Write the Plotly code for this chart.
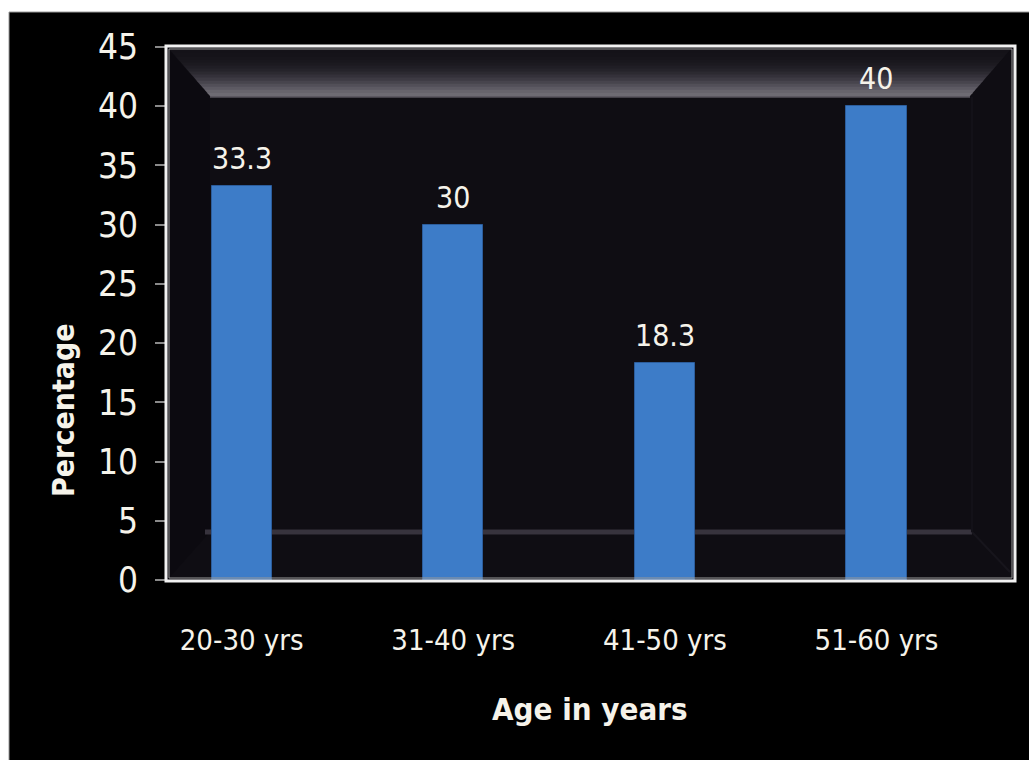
import plotly.graph_objects as go

categories = ["20-30 yrs", "31-40 yrs", "41-50 yrs", "51-60 yrs"]
percentages = [33.3, 30, 18.3, 40]
y_ticks = [0, 5, 10, 15, 20, 25, 30, 35, 40, 45]

FONT = "DejaVu Sans Condensed, Liberation Sans Narrow, sans-serif"
TXT = "#f6f3ea"

W, H = 1029, 760
L, R, T, B = 167, 15, 47, 180
PW, PH = W - L - R, H - T - B


def px(x):
    return (x - L) / PW


def py(y):
    return (H - B - y) / PH


fig = go.Figure()
fig.add_trace(go.Bar(
    x=list(range(len(categories))),
    y=percentages,
    width=0.285,
    marker=dict(color="#3d7cc8", line=dict(color="#2c5d9c", width=1)),
    cliponaxis=False,
))

shapes = []
# outer white strips (page margin)
shapes.append(dict(type="rect", xref="paper", yref="paper", x0=px(0), x1=px(W), y0=py(0), y1=py(12),
                   fillcolor="white", line=dict(width=0), layer="below"))
shapes.append(dict(type="rect", xref="paper", yref="paper", x0=px(0), x1=px(9), y0=py(H), y1=py(0),
                   fillcolor="white", line=dict(width=0), layer="below"))
shapes.append(dict(type="line", xref="paper", yref="paper", x0=px(9), x1=px(W), y0=py(12), y1=py(12),
                   line=dict(color="#9a9a9a", width=1), layer="below"))
shapes.append(dict(type="line", xref="paper", yref="paper", x0=px(9), x1=px(9), y0=py(12), y1=py(H),
                   line=dict(color="#9a9a9a", width=1), layer="below"))

# top bevel band of the back wall (stepped gradient, dark at top, light at bottom)
band_cols = ["#141218", "#151319", "#17151b", "#19171d", "#1c1a20", "#201e25", "#25232a",
             "#2c2a31", "#34313a", "#3d3a43", "#47444d", "#524f58", "#5d5a63", "#67646c", "#6e6b73"]
top, bot = 50, 96
n = len(band_cols)
for i, c in enumerate(band_cols):
    y0 = top + (bot - top) * i / n
    y1 = top + (bot - top) * (i + 1) / n + 0.5
    xl0, xl1 = 170 + (y0 - top) * 40 / (bot - top), 170 + (y1 - top) * 40 / (bot - top)
    xr0, xr1 = 1010 - (y0 - top) * 40 / (bot - top), 1010 - (y1 - top) * 40 / (bot - top)
    path = (f"M {px(xl0)} {py(y0)} L {px(xr0)} {py(y0)} L {px(xr1)} {py(y1)} "
            f"L {px(xl1)} {py(y1)} Z")
    shapes.append(dict(type="path", xref="paper", yref="paper", path=path,
                       fillcolor=c, line=dict(width=0), layer="below"))
shapes.append(dict(type="line", xref="paper", yref="paper", x0=px(210), x1=px(970), y0=py(97), y1=py(97),
                   line=dict(color="#7a7680", width=1), layer="below"))
# left wall slightly darker
shapes.append(dict(type="path", xref="paper", yref="paper",
                   path=f"M {px(169)} {py(50)} L {px(210)} {py(97)} L {px(210)} {py(532)} L {px(169)} {py(578)} Z",
                   fillcolor="#0c0a10", line=dict(width=0), layer="below"))
# floor line
shapes.append(dict(type="line", xref="paper", yref="paper", x0=px(205), x1=px(972), y0=py(532), y1=py(532),
                   line=dict(color="#37333d", width=5), layer="below"))
shapes.append(dict(type="line", xref="paper", yref="paper", x0=px(972), x1=px(1010), y0=py(532), y1=py(572),
                   line=dict(color="#17151c", width=2), layer="below"))
shapes.append(dict(type="line", xref="paper", yref="paper", x0=px(972), x1=px(972), y0=py(97), y1=py(532),
                   line=dict(color="#131118", width=2), layer="below"))
# plot frame (white border)
shapes.append(dict(type="rect", xref="paper", yref="paper", x0=px(166), x1=px(1015), y0=py(581), y1=py(46),
                   line=dict(color="#f2f2f2", width=3), layer="above"))
shapes.append(dict(type="rect", xref="paper", yref="paper", x0=px(169), x1=px(1012), y0=py(578), y1=py(49),
                   line=dict(color="#9a9a9a", width=1), layer="above"))

annotations = [
    dict(text="<b>Percentage</b>", xref="paper", yref="paper", x=px(63), y=py(410),
         textangle=-90, showarrow=False, xanchor="center", yanchor="middle",
         font=dict(family=FONT, size=30, color=TXT)),
    dict(text="<b>Age in years</b>", xref="paper", yref="paper", x=px(590), y=py(709),
         showarrow=False, xanchor="center", yanchor="middle",
         font=dict(family=FONT, size=31, color=TXT)),
]
# value labels above bars
for i, v in enumerate(percentages):
    annotations.append(dict(text=f"{v:g}", x=i, y=v, xref="x", yref="y", showarrow=False,
                            xanchor="center", yanchor="bottom", yshift=8,
                            font=dict(family=FONT, size=30, color=TXT)))

fig.update_layout(
    width=W, height=H,
    margin=dict(l=L, r=R, t=T, b=B),
    paper_bgcolor="black",
    plot_bgcolor="#0f0d13",
    showlegend=False,
    shapes=shapes,
    bargap=0,
    xaxis=dict(
        range=[-0.353, 3.65],
        tickmode="array",
        tickvals=list(range(len(categories))),
        ticktext=categories,
        showgrid=False, zeroline=False, showline=False,
        ticks="",
        tickfont=dict(family=FONT, size=29, color=TXT),
        ticklabelstandoff=40,
    ),
    yaxis=dict(
        range=[0, 45],
        tickmode="array",
        tickvals=y_ticks,
        showgrid=False, zeroline=False,
        showline=False,
        ticks="outside", ticklen=11, tickcolor="#8a8a8a", tickwidth=2,
        tickfont=dict(family=FONT, size=35, color=TXT),
        ticklabelstandoff=10,
    ),
    annotations=annotations,
)

fig.write_html("out.html")
